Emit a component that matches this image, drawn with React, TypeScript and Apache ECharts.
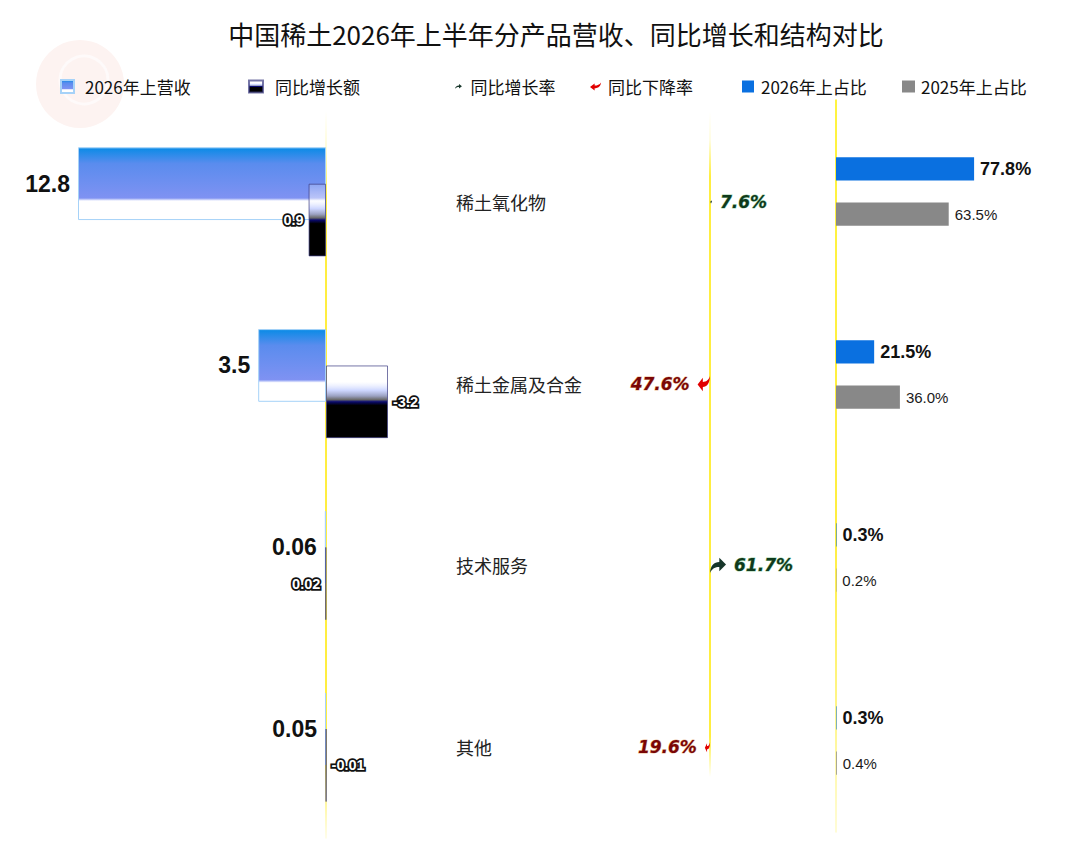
import React, { useEffect, useRef } from 'react';
import * as echarts from 'echarts';

const titleText = '中国稀土2026年上半年分产品营收、同比增长和结构对比';
const categories = ['稀土氧化物', '稀土金属及合金', '技术服务', '其他'];
const revenue2026 = [12.8, 3.5, 0.06, 0.05];
const yoyChange = [0.9, -3.2, 0.02, -0.01];
const yoyRate = [7.6, -47.6, 61.7, -19.6];
const share2026 = [77.8, 21.5, 0.3, 0.3];
const share2025 = [63.5, 36.0, 0.2, 0.4];
const legendNames = ['2026年上营收', '同比增长额', '同比增长率', '同比下降率', '2026年上占比', '2025年上占比'];

const NARROW = "'Liberation Sans', Arial, sans-serif";
const CJK = "'Noto Sans CJK SC', 'Noto Sans', sans-serif";
const ARROW_UP = 'path://M0,80 C2,45 25,28 58,28 L58,8 L100,40 L58,72 L58,52 C32,52 12,60 0,80 Z';
const ARROW_DOWN = 'path://M0,0 C2,35 25,52 58,52 L58,72 L100,40 L58,8 L58,28 C32,28 12,20 0,0 Z';
const ARROW_DOWN_LEGEND = 'path://M100,0 C98,35 75,52 42,52 L42,72 L0,40 L42,8 L42,28 C68,28 88,20 100,0 Z';

function yellowLine(y1: number, y2: number, stops: [number, string][]) {
  return new echarts.graphic.LinearGradient(
    0, y1, 0, y2,
    stops.map(([offset, color]) => ({ offset, color })),
    true
  );
}

function legendItem(name: string, left: number, w: number, h: number, icon: string, pad: number) {
  return {
    data: [{ name, icon }],
    left,
    top: 78,
    padding: 0,
    itemWidth: w,
    itemHeight: h,
    selectedMode: false,
    textStyle: { fontSize: 17, color: '#111', fontFamily: CJK, padding: [0, 0, 0, pad] },
  };
}

export default function App() {
  const ref = useRef<HTMLDivElement>(null);
  useEffect(() => {
    document.body.style.margin = '0';
    document.body.style.overflow = 'hidden';
    const chart = echarts.init(ref.current!, null, { renderer: 'svg' });

    const revGrad = new echarts.graphic.LinearGradient(0, 0, 0, 1, [
      { offset: 0, color: '#0a8be6' },
      { offset: 0.22, color: '#5a8cee' },
      { offset: 0.7, color: '#7f92f2' },
      { offset: 0.74, color: '#ffffff' },
      { offset: 1, color: '#ffffff' },
    ]);
    const chgGrad = new echarts.graphic.LinearGradient(0, 0, 0, 1, [
      { offset: 0, color: 'rgba(255,255,255,0.2)' },
      { offset: 0.22, color: 'rgba(255,255,255,0.5)' },
      { offset: 0.34, color: 'rgba(200,210,255,0.9)' },
      { offset: 0.42, color: '#9aa0c0' },
      { offset: 0.47, color: '#6a6a6a' },
      { offset: 0.5, color: '#0a0a70' },
      { offset: 0.55, color: '#000000' },
      { offset: 1, color: '#000000' },
    ]);

    const option: any = {
      animation: false,
      backgroundColor: '#ffffff',
      title: {
        text: titleText,
        left: 551,
        top: 15,
        textAlign: 'center',
        textStyle: { fontSize: 26, fontWeight: 'normal', color: '#111', fontFamily: CJK },
      },
      graphic: [
        { type: 'circle', shape: { cx: 80, cy: 84, r: 44 }, style: { fill: '#fdf3f1' }, z: -10 },
        { type: 'circle', shape: { cx: 84, cy: 80, r: 24 }, style: { fill: 'none', stroke: '#fefafa', lineWidth: 3 }, z: -9 },
      ],
      legend: [
        legendItem(legendNames[0], 60, 13, 13, 'rect', 6),
        legendItem(legendNames[1], 248, 14, 12, 'rect', 7),
        legendItem(legendNames[2], 455, 8, 5, ARROW_UP, 3),
        legendItem(legendNames[3], 590, 11, 8, ARROW_DOWN_LEGEND, 2),
        legendItem(legendNames[4], 742, 12, 12, 'rect', 2),
        legendItem(legendNames[5], 902, 13, 12, 'rect', 1),
      ],
      grid: [
        { left: 54.75, right: 676.5, top: 111, height: 727, outerBoundsMode: 'none' },
        { left: 658, width: 104, top: 111, height: 727, outerBoundsMode: 'none' },
        { left: 836, width: 177.5, top: 100, height: 732, outerBoundsMode: 'none' },
      ],
      xAxis: [
        { gridIndex: 0, type: 'value', min: -4, max: 14, inverse: true, axisLine: { show: false }, axisTick: { show: false }, axisLabel: { show: false }, splitLine: { show: false } },
        { gridIndex: 1, type: 'value', min: -200, max: 200, axisLine: { show: false }, axisTick: { show: false }, axisLabel: { show: false }, splitLine: { show: false } },
        { gridIndex: 2, type: 'value', min: 0, max: 100, axisLine: { show: false }, axisTick: { show: false }, axisLabel: { show: false }, splitLine: { show: false } },
      ],
      yAxis: [
        {
          gridIndex: 0, type: 'category', data: categories, inverse: true,
          axisLine: { onZero: true, lineStyle: { width: 1.5, color: yellowLine(111, 838, [[0, 'rgba(255,235,0,0)'], [0.05, 'rgba(255,235,0,0.2)'], [0.12, '#ffe800'], [0.9, '#ffe800'], [1, 'rgba(255,240,60,0.15)']]) } },
          axisTick: { show: false }, axisLabel: { show: false },
        },
        {
          gridIndex: 1, type: 'category', data: categories, inverse: true,
          axisLine: { onZero: true, lineStyle: { width: 1.5, color: yellowLine(111, 838, [[0, 'rgba(255,235,0,0)'], [0.04, 'rgba(255,235,0,0.15)'], [0.09, '#ffe800'], [0.86, '#ffe800'], [0.916, 'rgba(255,240,0,0)'], [1, 'rgba(255,240,0,0)']]) } },
          axisTick: { show: false },
          axisLabel: { show: true, align: 'left', margin: 202, fontSize: 18, color: '#222', fontFamily: CJK },
        },
        {
          gridIndex: 2, type: 'category', data: categories, inverse: true,
          axisLine: { onZero: true, lineStyle: { width: 1.5, color: yellowLine(100, 832, [[0, '#fff000'], [0.6, '#ffe800'], [0.85, '#fff36a'], [1, 'rgba(255,245,120,0.4)']]) } },
          axisTick: { show: false }, axisLabel: { show: false },
        },
      ],
      series: [
        {
          name: legendNames[0], type: 'bar', xAxisIndex: 0, yAxisIndex: 0,
          data: revenue2026, barWidth: '40%', barGap: '-50%',
          itemStyle: { color: revGrad, borderColor: '#a6d2f8', borderWidth: 1 },
          label: {
            show: true, position: 'left', distance: 8,
            formatter: (p: any) => String(p.value),
            fontFamily: NARROW, fontWeight: 'bold', fontSize: 23, color: '#111',
          },
        },
        {
          name: legendNames[1], type: 'bar', xAxisIndex: 0, yAxisIndex: 0,
          data: yoyChange.map((v) => ({ value: v, label: { position: v >= 0 ? 'left' : 'right' } })),
          barWidth: '40%',
          itemStyle: { color: chgGrad, borderColor: 'rgba(60,60,130,0.7)', borderWidth: 1 },
          label: {
            show: true, distance: 5,
            formatter: (p: any) => String(p.value),
            fontFamily: NARROW, fontWeight: 'bold', fontSize: 14.5, color: '#fff',
            textBorderColor: '#111', textBorderWidth: 3.5,
          },
        },
        {
          name: legendNames[2], type: 'pictorialBar', xAxisIndex: 1, yAxisIndex: 1,
          symbol: ARROW_UP, symbolRepeat: false, barGap: '-100%', barWidth: '40%',
          itemStyle: { color: '#17362a' },
          data: yoyRate.map((v) => (v > 0 ? { value: v, symbolSize: ['100%', Math.min(Math.abs(v) * 0.5, 15)] } : '-')),
          label: {
            show: true, position: 'right', distance: 8,
            formatter: (p: any) => Math.abs(p.value).toFixed(1) + '%',
            fontFamily: "'DejaVu Sans', sans-serif", fontWeight: 'bold', fontStyle: 'italic', fontSize: 17,
            color: '#0f3a1c', textBorderColor: 'rgba(70,170,90,0.55)', textBorderWidth: 1,
          },
        },
        {
          name: legendNames[3], type: 'pictorialBar', xAxisIndex: 1, yAxisIndex: 1,
          symbol: ARROW_DOWN, symbolRepeat: false, barGap: '-100%', barWidth: '40%',
          itemStyle: { color: '#e10000' },
          data: yoyRate.map((v) => (v < 0 ? { value: v, symbolSize: ['100%', Math.min(Math.abs(v) * 0.5, 15)] } : '-')),
          label: {
            show: true, position: 'left', distance: 8,
            formatter: (p: any) => Math.abs(p.value).toFixed(1) + '%',
            fontFamily: "'DejaVu Sans', sans-serif", fontWeight: 'bold', fontStyle: 'italic', fontSize: 17,
            color: '#7a0606', textBorderColor: 'rgba(210,120,40,0.5)', textBorderWidth: 1,
          },
        },
        {
          name: legendNames[4], type: 'bar', xAxisIndex: 2, yAxisIndex: 2,
          data: share2026, barWidth: '12.6%', barGap: '96%',
          itemStyle: { color: '#0a70e0' },
          label: {
            show: true, position: 'right', distance: 6,
            formatter: (p: any) => Number(p.value).toFixed(1) + '%',
            fontFamily: NARROW, fontWeight: 'bold', fontSize: 18, color: '#111',
          },
        },
        {
          name: legendNames[5], type: 'bar', xAxisIndex: 2, yAxisIndex: 2,
          data: share2025, barWidth: '12.6%',
          itemStyle: { color: '#888888' },
          label: {
            show: true, position: 'right', distance: 6,
            formatter: (p: any) => Number(p.value).toFixed(1) + '%',
            fontFamily: "'Liberation Sans', Arial, sans-serif", fontSize: 15, color: '#1a1a1a',
          },
        },
      ],
    };
    chart.setOption(option);
    return () => chart.dispose();
  }, []);
  return <div ref={ref} style={{ width: 1080, height: 843 }} />;
}
